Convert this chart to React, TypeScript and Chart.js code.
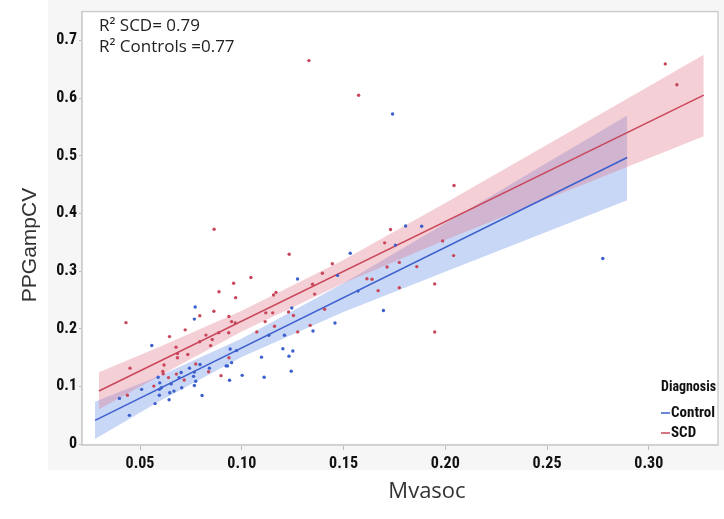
import React, { useEffect, useRef } from "react";
import { Chart, registerables } from "chart.js";

Chart.register(...registerables);

// ---------- data ----------
const scdX = [0.0431,0.0451,0.0438,0.0568,0.0645,0.0677,0.0684,0.0684,0.0618,0.0612,0.0614,0.064,0.0679,0.0717,0.0722,0.0735,0.0774,0.0794,0.0793,0.0824,0.0837,0.0847,0.0855,0.0863,0.0888,0.0887,0.0898,0.0937,0.0936,0.0937,0.095,0.096,0.0968,0.097,0.1045,0.1074,0.1115,0.1118,0.1152,0.1156,0.1168,0.1161,0.123,0.1233,0.1254,0.1275,0.1336,0.1348,0.1358,0.1396,0.1407,0.1445,0.133,0.1574,0.0864,0.3081,0.3138,0.2043,0.1731,0.1702,0.1987,0.2041,0.1948,0.1948,0.1615,0.164,0.167,0.1714,0.1774,0.1774,0.186];
const scdY = [0.2105,0.1316,0.0847,0.1005,0.1863,0.168,0.1568,0.1495,0.137,0.126,0.122,0.1152,0.1213,0.111,0.198,0.1552,0.1387,0.2224,0.1773,0.1889,0.1254,0.1707,0.1814,0.2303,0.2641,0.1931,0.1186,0.2213,0.1931,0.1495,0.2123,0.2788,0.21,0.2539,0.2889,0.1945,0.2123,0.2275,0.2275,0.2585,0.263,0.2043,0.229,0.3291,0.2229,0.1945,0.2058,0.2771,0.26,0.2963,0.2337,0.3127,0.665,0.605,0.3726,0.6593,0.6232,0.4483,0.372,0.3489,0.3522,0.3268,0.2777,0.1942,0.2867,0.2857,0.266,0.307,0.315,0.271,0.3077];

const ctlX = [0.0399,0.0448,0.0508,0.0558,0.0574,0.0589,0.0597,0.0595,0.0595,0.0605,0.0643,0.0646,0.0653,0.0667,0.0692,0.0702,0.0705,0.0743,0.0763,0.0767,0.0767,0.0771,0.0767,0.0774,0.0795,0.0805,0.0841,0.0923,0.093,0.094,0.0943,0.095,0.0974,0.1002,0.1097,0.111,0.1133,0.1202,0.121,0.1232,0.1243,0.1246,0.1251,0.1274,0.1458,0.1471,0.1571,0.1533,0.135,0.1741,0.1805,0.1884,0.1755,0.2774,0.1696];
const ctlY = [0.0791,0.0497,0.0948,0.171,0.0701,0.1157,0.1061,0.0948,0.0847,0.0976,0.0767,0.089,0.1043,0.0918,0.1151,0.1241,0.0976,0.1316,0.1174,0.1247,0.1016,0.2376,0.2167,0.1089,0.1378,0.0841,0.1316,0.1355,0.1355,0.1106,0.1648,0.1411,0.162,0.1191,0.1507,0.1158,0.1886,0.1653,0.1886,0.1524,0.1264,0.2358,0.1614,0.2862,0.21,0.2925,0.2652,0.3308,0.196,0.5724,0.3781,0.3776,0.345,0.3218,0.2315];

// regression fit lines (end points)
const ctlLineX = [0.0279, 0.2894];
const ctlLineY = [0.041, 0.497];
const scdLineX = [0.0298, 0.327];
const scdLineY = [0.092, 0.605];

// confidence bands
const ctlBandX = [0.0279, 0.06, 0.10, 0.15, 0.20, 0.25, 0.2894];
const ctlBandUpper = [0.0735, 0.119, 0.183, 0.279, 0.383, 0.488, 0.570];
const ctlBandLower = [0.0085, 0.075, 0.151, 0.229, 0.299, 0.368, 0.423];
const scdBandX = [0.0298, 0.06, 0.10, 0.15, 0.20, 0.25, 0.327];
const scdBandUpper = [0.1245, 0.169, 0.231, 0.319, 0.418, 0.519, 0.675];
const scdBandLower = [0.0601, 0.119, 0.195, 0.279, 0.354, 0.425, 0.534];

const xTickValues = [0.05, 0.1, 0.15, 0.2, 0.25, 0.3];
const yTickValues = [0, 0.1, 0.2, 0.3, 0.4, 0.5, 0.6, 0.7];

const legendTitle = "Diagnosis";
const seriesNames = ["Control", "SCD"];
const annotationLines = ["R\u00B2 SCD= 0.79", "R\u00B2 Controls =0.77"];
const xTitle = "Mvasoc";
const yTitle = "PPGampCV";

const BLUE = "#3b5fcc";
const RED = "#c9475a";

const zip = (xs: number[], ys: number[]) => xs.map((x, i) => ({ x, y: ys[i] }));

const NARROW = "'Liberation Sans Narrow', 'Arial Narrow', 'Roboto Condensed', 'Liberation Sans', sans-serif";
const tickFont = { family: NARROW, size: 16, weight: "bold" as const };

export default function App() {
  const ref = useRef<HTMLCanvasElement | null>(null);
  useEffect(() => {
    if (!ref.current) return;
    const decor = {
      id: "decor",
      beforeDraw(chart: any) {
        const { ctx, chartArea } = chart;
        ctx.save();
        ctx.fillStyle = "#ffffff";
        ctx.fillRect(0, 0, chart.width, chart.height);
        ctx.fillStyle = "#f6f6f6";
        ctx.fillRect(48, 0, chart.width - 48, 470);
        ctx.fillStyle = "#ffffff";
        ctx.fillRect(chartArea.left, chartArea.top, chartArea.right - chartArea.left, chartArea.bottom - chartArea.top);
        ctx.restore();
      },
      afterDraw(chart: any) {
        const { ctx, chartArea } = chart;
        ctx.save();
        ctx.strokeStyle = "#cfcfcf";
        ctx.lineWidth = 1.5;
        ctx.strokeRect(chartArea.left, chartArea.top, chartArea.right - chartArea.left, chartArea.bottom - chartArea.top);
        // annotation
        ctx.fillStyle = "#222";
        ctx.font = "17px 'Open Sans', sans-serif";
        ctx.textBaseline = "middle";
        ctx.textAlign = "left";
        ctx.fillText(annotationLines[0], 99, 26);
        ctx.fillText(annotationLines[1], 99, 47);
        // legend
        ctx.font = "bold 15px " + NARROW;
        ctx.fillStyle = "#111";
        ctx.fillText(legendTitle, 661, 387, 55);
        const cols = [BLUE, RED];
        const ys = [413, 433];
        seriesNames.forEach((n, i) => {
          ctx.strokeStyle = cols[i];
          ctx.lineWidth = 1.5;
          ctx.beginPath();
          ctx.moveTo(661, ys[i]);
          ctx.lineTo(670, ys[i]);
          ctx.stroke();
          ctx.fillStyle = "#111";
          ctx.fillText(n, 671, ys[i], 44);
        });
        // axis titles
        ctx.fillStyle = "#333";
        ctx.font = "22px 'Open Sans', sans-serif";
        ctx.textAlign = "center";
        ctx.fillText(xTitle, 427, 492);
        ctx.save();
        ctx.translate(30, 245);
        ctx.rotate(-Math.PI / 2);
        ctx.font = "21px 'Liberation Sans', Arial, sans-serif";
        ctx.fillText(yTitle, 0, 0);
        ctx.restore();
        ctx.restore();
      },
    };

    const chart = new Chart(ref.current, {
      type: "scatter",
      data: {
        datasets: [
          { data: zip(ctlBandX, ctlBandLower), showLine: true, borderWidth: 0, borderColor: "rgba(0,0,0,0)", pointRadius: 0, fill: false, order: 8 },
          { data: zip(ctlBandX, ctlBandUpper), showLine: true, borderWidth: 0, borderColor: "rgba(0,0,0,0)", pointRadius: 0, fill: "-1", backgroundColor: "rgba(100,140,230,0.35)", order: 7 },
          { data: zip(scdBandX, scdBandLower), showLine: true, borderWidth: 0, borderColor: "rgba(0,0,0,0)", pointRadius: 0, fill: false, order: 6 },
          { data: zip(scdBandX, scdBandUpper), showLine: true, borderWidth: 0, borderColor: "rgba(0,0,0,0)", pointRadius: 0, fill: "-1", backgroundColor: "rgba(225,110,130,0.33)", order: 5 },
          { data: zip(ctlLineX, ctlLineY), showLine: true, borderWidth: 1.5, borderColor: BLUE, pointRadius: 0, fill: false, order: 4 },
          { data: zip(scdLineX, scdLineY), showLine: true, borderWidth: 1.5, borderColor: RED, pointRadius: 0, fill: false, order: 3 },
          { data: zip(ctlX, ctlY), pointRadius: 1.7, pointBorderWidth: 0, backgroundColor: BLUE, borderColor: BLUE, order: 2 },
          { data: zip(scdX, scdY), pointRadius: 1.7, pointBorderWidth: 0, backgroundColor: RED, borderColor: RED, order: 1 },
        ],
      },
      options: {
        animation: false,
        responsive: false,
        layout: { padding: { top: 3, right: 6, left: 0, bottom: 0 } },
        plugins: { legend: { display: false }, tooltip: { enabled: false } },
        scales: {
          x: {
            type: "linear",
            min: 0.0215,
            max: 0.334,
            afterBuildTicks: (s: any) => { s.ticks = xTickValues.map((v) => ({ value: v })); },
            afterFit: (s: any) => { s.height = 74; },
            ticks: { callback: (v: any) => Number(v).toFixed(2), font: tickFont, color: "#111", padding: 4, maxRotation: 0 },
            grid: { drawOnChartArea: false, tickLength: 5, color: "#bbbbbb" },
            border: { color: "#cfcfcf", width: 1.5 },
          },
          y: {
            type: "linear",
            min: -0.0017,
            max: 0.75,
            afterBuildTicks: (s: any) => { s.ticks = yTickValues.map((v) => ({ value: v })); },
            afterFit: (s: any) => { s.width = 82; },
            ticks: { callback: (v: any) => (Number(v) === 0 ? "0" : Number(v).toFixed(1)), font: tickFont, color: "#111", padding: 2 },
            grid: { drawOnChartArea: false, tickLength: 3, color: "#bbbbbb" },
            border: { color: "#cfcfcf", width: 1.5 },
          },
        },
      },
      plugins: [decor],
    } as any);
    return () => chart.destroy();
  }, []);

  return (
    <div style={{ position: "fixed", left: 0, top: 0, width: 724, height: 519, background: "#fff" }}>
      <canvas ref={ref} width={724} height={519} style={{ width: 724, height: 519, display: "block" }} />
    </div>
  );
}
